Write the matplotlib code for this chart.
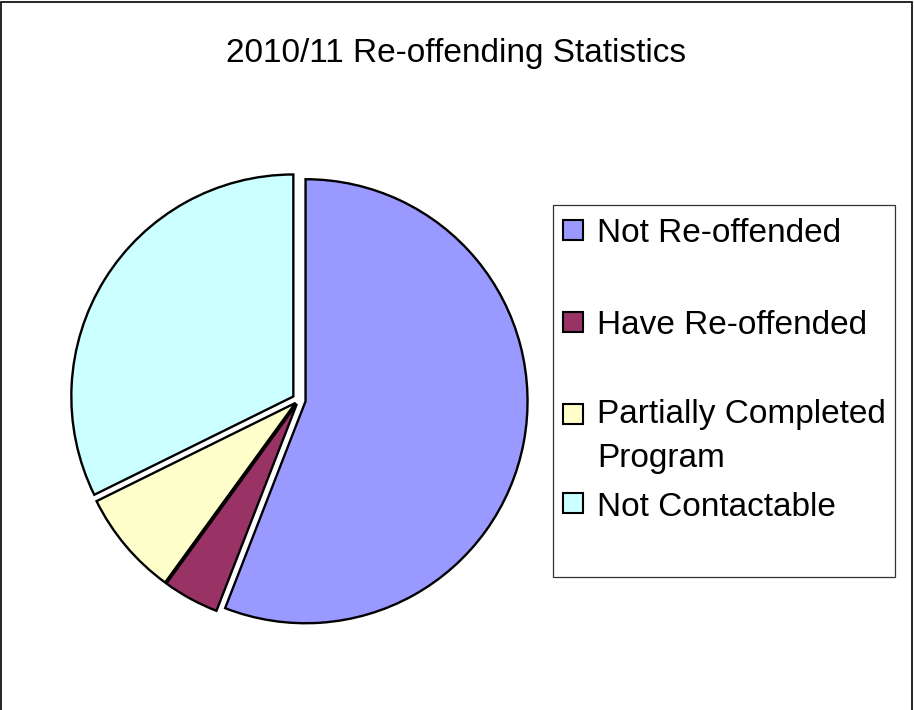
import matplotlib
matplotlib.use("Agg")
from matplotlib import pyplot as plt
from matplotlib.patches import Rectangle

plt.rcParams['font.family'] = ['Liberation Sans', 'DejaVu Sans']

labels = ["Not Re-offended", "Have Re-offended", "Partially Completed\nProgram", "Not Contactable"]
values = [55.9, 4.1, 7.7, 32.3]
colors = ["#9999FF", "#993366", "#FFFFCC", "#CCFFFF"]
title = "2010/11 Re-offending Statistics"

W, H = 914, 710
fig = plt.figure(figsize=(W / 100, H / 100), dpi=100)

# outer chart border (bottom is cut off in the reference)
fig.patches.append(Rectangle((1 / W, -0.05), (W - 3) / W, 1.05 - 2 / H, transform=fig.transFigure,
                             fill=False, edgecolor="black", linewidth=1.2))

# pie axes: centre ~(299,400) px, radius ~222 px
r = 222
half = r * 1.1
cx, cy = 299, 400
ax = fig.add_axes([(cx - half) / W, (H - cy - half) / H, 2 * half / W, 2 * half / H])
ax.pie(values, colors=colors, startangle=90, counterclock=False,
       explode=[0.03, 0.02, 0.02, 0.03],
       wedgeprops=dict(edgecolor="black", linewidth=1.7))
ax.set_xlim(-1.1, 1.1)
ax.set_ylim(-1.1, 1.1)
ax.set_aspect("equal")
ax.axis("off")

fig.text(456 / W, 1 - 62 / H, title, ha="center", va="baseline", fontsize=24)

# legend box drawn by hand to follow the original spacing
lx0, ly0, lx1, ly1 = 553, 205, 895, 577
fig.patches.append(Rectangle((lx0 / W, 1 - ly1 / H), (lx1 - lx0) / W, (ly1 - ly0) / H,
                             transform=fig.transFigure, fill=False, edgecolor="#333333", linewidth=0.9))
squares = [230, 322, 414, 503]
baselines = [242, 334, 423, 516]
for lab, col, sy, by in zip(labels, colors, squares, baselines):
    fig.patches.append(Rectangle((563 / W, 1 - (sy + 10) / H), 20 / W, 20 / H, transform=fig.transFigure,
                                 facecolor=col, edgecolor="black", linewidth=1.5))
    for k, line in enumerate(lab.split("\n")):
        fig.text(597 / W, 1 - (by + 44 * k) / H, line, ha="left", va="baseline", fontsize=24)

fig.savefig("out.png", dpi=100)
